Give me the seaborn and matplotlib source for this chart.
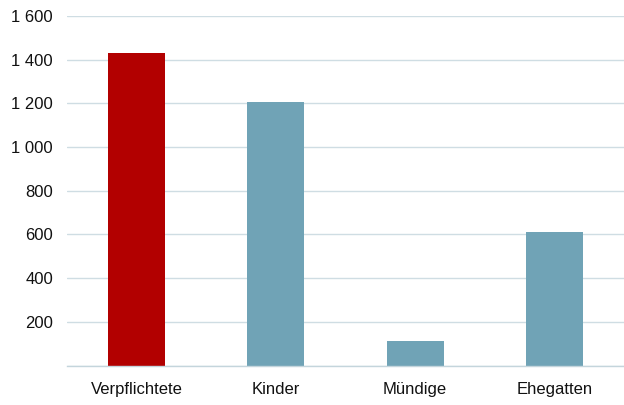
import matplotlib
matplotlib.use("Agg")
import matplotlib.pyplot as plt
import seaborn as sns
import pandas as pd

categories = ["Verpflichtete", "Kinder", "Mündige", "Ehegatten"]
values = [1430, 1206, 112, 611]
bar_colors = ["#b20000", "#70a3b6", "#70a3b6", "#70a3b6"]
y_ticks = [200, 400, 600, 800, 1000, 1200, 1400, 1600]
y_tick_labels = ["200", "400", "600", "800", "1 000", "1 200", "1 400", "1 600"]

sns.set_theme(style="white")
plt.rcParams["font.family"] = ["Liberation Sans", "DejaVu Sans"]

df = pd.DataFrame({"Kategorie": categories, "Wert": values})

W, H = 624, 405
fig = plt.figure(figsize=(W / 100, H / 100), dpi=100)
left, right, top, bottom = 67, 624, 16, 365.5
ax = fig.add_axes([left / W, (H - bottom) / H, (right - left) / W, (bottom - top) / H])

sns.barplot(data=df, x="Kategorie", y="Wert", hue="Kategorie",
            palette=bar_colors, width=0.41, legend=False, ax=ax,
            saturation=1, linewidth=0)

ax.set_ylim(0, 1600)
ax.set_xlim(-0.5, 3.5)
ax.set_yticks([0] + y_ticks)
ax.set_yticklabels([""] + y_tick_labels)
ax.yaxis.grid(True, color="#cfdde3", linewidth=1.0)
ax.set_axisbelow(True)
for s in ["left", "right", "top"]:
    ax.spines[s].set_visible(False)
ax.spines["bottom"].set_color("#c4d5dc")
ax.spines["bottom"].set_linewidth(1.0)
ax.set_xlabel("")
ax.set_ylabel("")
ax.tick_params(axis="both", length=0, labelsize=12, colors="#111111")
ax.tick_params(axis="y", pad=10)
ax.tick_params(axis="x", pad=12)

fig.savefig("out.png", dpi=100)
